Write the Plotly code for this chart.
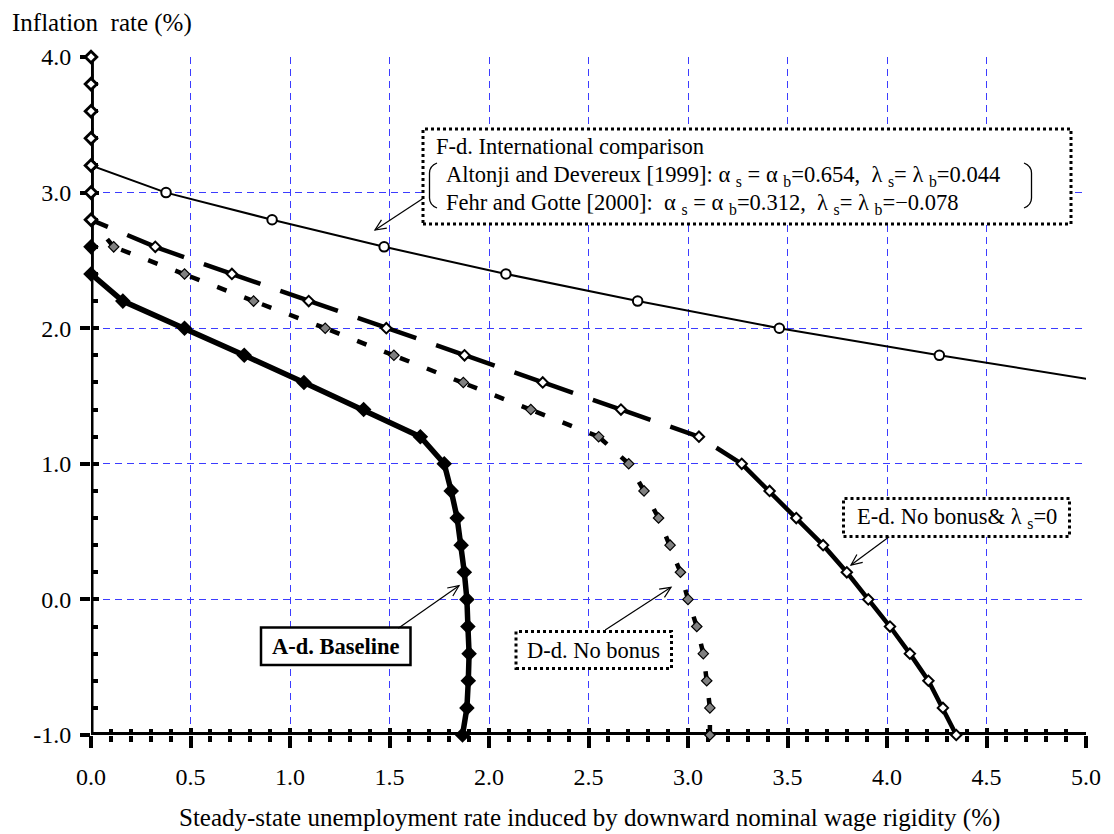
import math
import plotly.graph_objects as go

# ---------------- data ----------------
inflation = [-1.0, -0.8, -0.6, -0.4, -0.2, 0.0, 0.2, 0.4, 0.6, 0.8, 1.0, 1.2, 1.4,
             1.6, 1.8, 2.0, 2.2, 2.4, 2.6, 2.8, 3.0, 3.2, 3.4, 3.6, 3.8, 4.0]
baseline_u = [1.867, 1.889, 1.896, 1.900, 1.894, 1.889, 1.876, 1.860, 1.840, 1.810,
              1.775, 1.655, 1.370, 1.070, 0.770, 0.470, 0.160, 0.0, 0.0, 0.0,
              0.0, 0.0, 0.0, 0.0, 0.0, 0.0]
nobonus_u = [3.110, 3.110, 3.094, 3.077, 3.044, 3.000, 2.962, 2.910, 2.852, 2.779,
             2.702, 2.551, 2.210, 1.871, 1.522, 1.177, 0.817, 0.470, 0.114, 0.0,
             0.0, 0.0, 0.0, 0.0, 0.0, 0.0]
nobonus_lam0_u = [4.348, 4.281, 4.208, 4.115, 4.015, 3.906, 3.798, 3.679, 3.544, 3.410,
                  3.270, 3.055, 2.663, 2.270, 1.877, 1.484, 1.094, 0.708, 0.323, 0.0,
                  0.0, 0.0, 0.0, 0.0, 0.0, 0.0]
intl_inflation = [1.6, 1.8, 2.0, 2.2, 2.4, 2.6, 2.8, 3.0, 3.2]
intl_u = [5.12, 4.263, 3.459, 2.747, 2.085, 1.473, 0.910, 0.377, 0.0]

x_ticks = [0.0, 0.5, 1.0, 1.5, 2.0, 2.5, 3.0, 3.5, 4.0, 4.5, 5.0]
x_tick_labels = ["0.0", "0.5", "1.0", "1.5", "2.0", "2.5", "3.0", "3.5", "4.0", "4.5", "5.0"]
y_ticks = [-1.0, 0.0, 1.0, 2.0, 3.0, 4.0]
y_tick_labels = ["-1.0", "0.0", "1.0", "2.0", "3.0", "4.0"]

# ---------------- layout constants ----------------
W, H = 1114, 834
ML, MR, MT, MB = 91, 28, 57, 99
PW, PH = W - ML - MR, H - MT - MB
X_RANGE = [0, 5]
Y_RANGE = [-1, 4]
SX = PW / (X_RANGE[1] - X_RANGE[0])
SY = PH / (Y_RANGE[1] - Y_RANGE[0])
FONT = "Liberation Serif"
GRID = "#3c3cff"


def pp(xp, yp):
    """pixel -> paper"""
    return (xp - ML) / PW, (H - MB - yp) / PH


def dash_for(xs, ys, on, off):
    """dash pattern restarting at the start of every segment (as in the original)."""
    bounds = []
    pos = 0.0
    for i in range(len(xs) - 1):
        L = math.hypot((xs[i + 1] - xs[i]) * SX, (ys[i + 1] - ys[i]) * SY)
        t = 0.0
        while t < L - 1e-9:
            a = pos + t
            b = pos + min(t + on, L)
            if bounds and abs(bounds[-1][1] - a) < 1e-6:
                bounds[-1] = (bounds[-1][0], b)
            else:
                bounds.append((a, b))
            t += on + off
        pos += L
    vals = []
    prev = 0
    for k, (a, b) in enumerate(bounds):
        ra, rb = round(a), round(b)
        if k == 0:
            if ra > 0:
                vals += [0, ra]
            vals.append(max(rb - ra, 0))
        else:
            vals.append(max(ra - prev, 0))
            vals.append(max(rb - ra, 0))
        prev = rb
    vals.append(2000)
    return ",".join(f"{v}px" for v in vals)


fig = go.Figure()

# F-d international comparison
fig.add_trace(go.Scatter(
    x=intl_u, y=intl_inflation, mode="lines+markers",
    line=dict(color="black", width=2),
    marker=dict(symbol="circle", size=9.5, color="white", line=dict(color="black", width=2)),
    hoverinfo="skip", showlegend=False))

# A-d baseline
fig.add_trace(go.Scatter(
    x=baseline_u, y=inflation, mode="lines+markers",
    line=dict(color="black", width=5.5),
    marker=dict(symbol="diamond", size=12, color="black"),
    cliponaxis=False, hoverinfo="skip", showlegend=False))

# D-d no bonus
fig.add_trace(go.Scatter(
    x=nobonus_u, y=inflation, mode="lines+markers",
    line=dict(color="black", width=4.5, dash=dash_for(nobonus_u, inflation, 10, 19)),
    marker=dict(symbol="diamond", size=8, color="#808080", line=dict(color="black", width=1.2)),
    cliponaxis=False, hoverinfo="skip", showlegend=False))

# E-d no bonus & lambda_s = 0
i1 = inflation.index(1.0)
ed_dx, ed_dy = nobonus_lam0_u[i1:], inflation[i1:]
fig.add_trace(go.Scatter(
    x=ed_dx, y=ed_dy, mode="lines",
    line=dict(color="black", width=4.5, dash=dash_for(ed_dx, ed_dy, 30, 21)),
    hoverinfo="skip", showlegend=False))
fig.add_trace(go.Scatter(
    x=nobonus_lam0_u[:i1 + 1], y=inflation[:i1 + 1], mode="lines",
    line=dict(color="black", width=4.5),
    hoverinfo="skip", showlegend=False))
fig.add_trace(go.Scatter(
    x=nobonus_lam0_u, y=inflation, mode="markers",
    marker=dict(symbol="diamond", size=8, color="white", line=dict(color="black", width=2)),
    cliponaxis=False, hoverinfo="skip", showlegend=False))

# dummy trace for the overlay axes (inside tick marks)
fig.add_trace(go.Scatter(x=[None], y=[None], xaxis="x2", yaxis="y2",
                         mode="markers", hoverinfo="skip", showlegend=False))

tickfont = dict(family=FONT, size=24, color="black")
fig.update_layout(
    width=W, height=H,
    margin=dict(l=ML, r=MR, t=MT, b=MB),
    paper_bgcolor="white", plot_bgcolor="white",
    showlegend=False,
    xaxis=dict(range=X_RANGE, tickmode="array", tickvals=x_ticks, ticktext=x_tick_labels,
               ticks="outside", ticklen=12, tickwidth=4, tickcolor="black",
               minor=dict(dtick=0.1, tick0=0, ticks="outside", ticklen=6, tickwidth=4,
                          tickcolor="black", showgrid=False),
               showgrid=True, gridcolor=GRID, gridwidth=1, griddash="7px,5px",
               showline=False, zeroline=False, tickfont=tickfont, layer="below traces",
               ticklabelstandoff=8, fixedrange=True),
    yaxis=dict(range=Y_RANGE, tickmode="array", tickvals=y_ticks, ticktext=y_tick_labels,
               ticks="outside", ticklen=10, tickwidth=4, tickcolor="black",
               showgrid=True, gridcolor=GRID, gridwidth=1, griddash="7px,5px",
               showline=False, zeroline=False, tickfont=tickfont, layer="below traces",
               ticklabelstandoff=4, fixedrange=True),
    xaxis2=dict(range=X_RANGE, overlaying="x", anchor="y2", side="bottom",
                tickmode="array", tickvals=x_ticks, showticklabels=False,
                ticks="inside", ticklen=7, tickwidth=4, tickcolor="black",
                minor=dict(dtick=0.1, tick0=0, ticks="inside", ticklen=6, tickwidth=4,
                           tickcolor="black", showgrid=False),
                showgrid=False, showline=False, zeroline=False, layer="below traces",
                fixedrange=True),
    yaxis2=dict(range=Y_RANGE, overlaying="y", anchor="x2", side="left",
                tickmode="array", tickvals=y_ticks, showticklabels=False,
                ticks="inside", ticklen=8, tickwidth=4, tickcolor="black",
                minor=dict(dtick=0.2, tick0=0, ticks="inside", ticklen=7, tickwidth=4,
                           tickcolor="black", showgrid=False),
                showgrid=False, showline=False, zeroline=False, layer="below traces",
                fixedrange=True),
)

shapes = []
# axis lines
shapes.append(dict(type="line", xref="x", yref="y", x0=X_RANGE[0], x1=X_RANGE[1],
                   y0=Y_RANGE[0], y1=Y_RANGE[0], line=dict(color="black", width=6),
                   layer="between"))
shapes.append(dict(type="line", xref="x", yref="y", x0=X_RANGE[0], x1=X_RANGE[0],
                   y0=Y_RANGE[0], y1=Y_RANGE[1], line=dict(color="black", width=5),
                   layer="between"))


def box(x0, y0, x1, y1, dotted=True, width=3):
    a = pp(x0, y0)
    b = pp(x1, y1)
    shapes.append(dict(type="rect", xref="paper", yref="paper",
                       x0=a[0], x1=b[0], y0=b[1], y1=a[1],
                       fillcolor="white",
                       line=dict(color="black", width=width, dash="dot" if dotted else "solid"),
                       layer="above"))


def path_px(pts, cmd):
    s = ""
    for c, (xp, yp) in zip(cmd, pts):
        X, Y = pp(xp, yp)
        s += f"{c}{X:.5f},{Y:.5f} "
    return s.strip()


def arrow(tail, head, size=12, ang=24):
    tx, ty = tail
    hx, hy = head
    dx, dy = tx - hx, ty - hy
    L = math.hypot(dx, dy)
    ux, uy = dx / L, dy / L
    wings = []
    for s in (1, -1):
        a = math.radians(ang) * s
        wx = ux * math.cos(a) - uy * math.sin(a)
        wy = ux * math.sin(a) + uy * math.cos(a)
        wings.append((hx + wx * size, hy + wy * size))
    shapes.append(dict(type="path", xref="paper", yref="paper",
                       path=path_px([tail, head], "ML"),
                       line=dict(color="black", width=1.2), layer="above"))
    shapes.append(dict(type="path", xref="paper", yref="paper",
                       path=path_px([wings[0], head, wings[1]], "MLL"),
                       line=dict(color="black", width=1.2), layer="above"))


# boxes
box(423, 129, 1071, 224, dotted=True, width=3)
box(261, 627.5, 410.5, 665, dotted=False, width=2.5)
box(516, 631.5, 671.5, 668.5, dotted=True, width=3)
box(843.5, 498.5, 1069.5, 536.5, dotted=True, width=3)


# brackets inside the F-d box
def bracket(xa, xb, ytop, ybot):
    pts = [(xb, ytop), (xa, ytop + 3), (xa, ytop + 10), (xa, ybot - 10), (xa, ybot - 3), (xb, ybot)]
    s = path_px([pts[0]], "M") + " " + "Q" + path_px([pts[1]], " ").strip() + " " + \
        path_px([pts[2]], " ").strip() + " " + path_px([pts[3]], "L") + " Q" + \
        path_px([pts[4]], " ").strip() + " " + path_px([pts[5]], " ").strip()
    shapes.append(dict(type="path", xref="paper", yref="paper", path=s,
                       line=dict(color="black", width=1.3), layer="above"))


bracket(429.5, 437, 163, 208)
bracket(1031.5, 1024, 163, 208)

# arrows
arrow((423.3, 198.3), (375, 230))
arrow((398.3, 628.3), (459, 585.7))
arrow((605.2, 630), (671, 587.3))
arrow((889.2, 536.7), (851, 565))

fig.update_layout(shapes=shapes)

ann = []


def text(xp, yp, s, size=22.5, xanchor="left", bold=False):
    X, Y = pp(xp, yp)
    if bold:
        s = f"<b>{s}</b>"
    ann.append(dict(xref="paper", yref="paper", x=X, y=Y, text=s, showarrow=False,
                    xanchor=xanchor, yanchor="middle",
                    font=dict(family=FONT, size=size, color="black")))


NB = "\u00a0"
text(10, 23, f"Inflation{NB} rate (%)", size=25)
text(589, 818, "Steady-state unemployment rate induced by downward nominal wage rigidity (%)",
     size=25, xanchor="center")
text(433.5, 146, "F-d. International comparison")
text(444, 176, f"Altonji and Devereux [1999]: α{NB}<sub>s</sub> = α{NB}<sub>b</sub>=0.654,{NB}{NB}"
               f"λ{NB}<sub>s</sub>= λ{NB}<sub>b</sub>=0.044")
text(444, 204, f"Fehr and Gotte [2000]:{NB}{NB}α{NB}<sub>s</sub> = α{NB}<sub>b</sub>=0.312,{NB}{NB}"
               f"λ{NB}<sub>s</sub>= λ{NB}<sub>b</sub>=−0.078")
text(335.7, 646.5, "A-d. Baseline", xanchor="center", bold=True)
text(593.7, 650, "D-d. No bonus", xanchor="center")
text(956.5, 517.5, f"E-d. No bonus& λ{NB}<sub>s</sub>=0", xanchor="center")

fig.update_layout(annotations=ann)

fig.write_html("out.html", config={"displayModeBar": False},
               post_script="document.body.style.margin='0';document.body.style.padding='0';")
